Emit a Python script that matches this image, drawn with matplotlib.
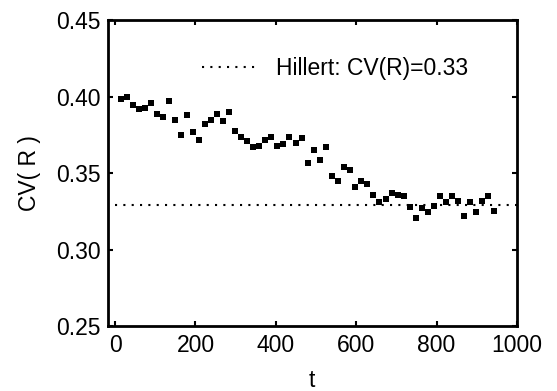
import matplotlib
matplotlib.use("Agg")
import matplotlib.pyplot as plt

plt.rcParams['font.family'] = ['Liberation Sans', 'DejaVu Sans']

t = [15, 30, 45, 60, 74, 89, 104, 120, 135, 150, 164, 179, 194, 209, 224, 239,
     254, 269, 284, 299, 314, 329, 344, 359, 374, 389, 404, 419, 434, 449, 464,
     479, 494, 509, 524, 539, 554, 569, 584, 598, 613, 628, 643, 658, 673, 688,
     703, 718, 733, 748, 763, 778, 793, 808, 823, 838, 853, 868, 883, 898, 913,
     928, 943]
cv = [0.3985, 0.400, 0.395, 0.392, 0.393, 0.396, 0.389, 0.387, 0.3976, 0.385,
      0.375, 0.388, 0.377, 0.372, 0.382, 0.385, 0.389, 0.384, 0.390, 0.3776,
      0.374, 0.371, 0.367, 0.368, 0.372, 0.374, 0.368, 0.369, 0.374, 0.370,
      0.373, 0.357, 0.365, 0.359, 0.367, 0.348, 0.345, 0.354, 0.352, 0.341,
      0.345, 0.343, 0.336, 0.331, 0.333, 0.3374, 0.336, 0.335, 0.328, 0.321,
      0.327, 0.3245, 0.3287, 0.335, 0.331, 0.3354, 0.332, 0.322, 0.331,
      0.3245, 0.332, 0.335, 0.3254]
hillert_t = [0, 1000]
hillert_cv = [0.329, 0.329]

fig = plt.figure(figsize=(5.57, 3.91), dpi=100)
ax = fig.add_axes([0.193, 0.166, 0.735, 0.7816])

ax.plot(hillert_t, hillert_cv, color='black', linestyle=(0, (1, 3)),
        linewidth=1.5, label='Hillert: CV(R)=0.33')
ax.plot(t, cv, linestyle='none', marker='s', markersize=5,
        color='black', markeredgewidth=0)

ax.set_xlim(-19, 1000)
ax.set_ylim(0.25, 0.45)
ax.set_xticks([0, 200, 400, 600, 800, 1000])
ax.set_yticks([0.25, 0.30, 0.35, 0.40, 0.45])
ax.set_yticklabels(['0.25', '0.30', '0.35', '0.40', '0.45'])

ax.tick_params(direction='in', length=3.6, width=1.5, labelsize=16.5,
               top=True, right=True)
ax.tick_params(axis='x', pad=6)
ax.tick_params(axis='y', pad=5)
for s in ax.spines.values():
    s.set_linewidth(2)

ax.set_xlabel('t', fontsize=16.5, labelpad=8)
ax.set_ylabel('CV( R )', fontsize=16.5, labelpad=11)

ax.legend(loc='center left', bbox_to_anchor=(0.230, 0.8435), frameon=False,
          borderpad=0, borderaxespad=0, handlelength=2.55, handletextpad=0.7,
          fontsize=16.5)

fig.savefig('out.png', dpi=100)
